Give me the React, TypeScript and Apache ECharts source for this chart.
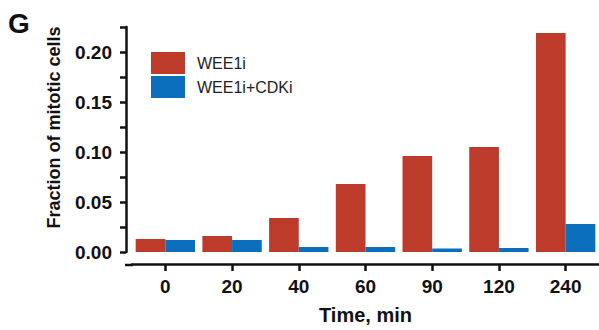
import React, { useEffect, useRef } from "react";
import * as echarts from "echarts";

const categories = ["0", "20", "40", "60", "90", "120", "240"];
const wee1i = [0.013, 0.016, 0.034, 0.068, 0.096, 0.105, 0.219];
const wee1iCdki = [0.012, 0.012, 0.005, 0.005, 0.0035, 0.004, 0.028];
const seriesNames = ["WEE1i", "WEE1i+CDKi"];
const yMax = 0.225;
const yStep = 0.025;

const FONT = "'Liberation Sans', Arial, Helvetica, sans-serif";

export default function App() {
  const ref = useRef<HTMLDivElement>(null);
  useEffect(() => {
    document.body.style.margin = "0";
    if (!ref.current) return;
    const chart = echarts.init(ref.current, null, { renderer: "svg" });
    chart.setOption({
      animation: false,
      textStyle: { fontFamily: FONT },
      grid: { left: 132, right: 0, top: 27, bottom: 77 },
      legend: {
        orient: "vertical",
        left: 151,
        top: 52,
        padding: 0,
        itemWidth: 34,
        itemHeight: 22,
        itemGap: 2,
        icon: "rect",
        data: seriesNames,
        textStyle: { fontSize: 16, color: "#222", fontFamily: FONT, padding: [0, 0, 0, 7] },
      },
      xAxis: {
        type: "category",
        data: categories,
        offset: 12,
        axisLine: { show: true, onZero: false, lineStyle: { color: "#111", width: 2.5 } },
        axisTick: { show: true, alignWithLabel: true, length: 7, lineStyle: { color: "#111", width: 2.5 } },
        axisLabel: { fontSize: 19, fontWeight: "bold", color: "#111", margin: 13, fontFamily: FONT },
        name: "Time, min",
        nameLocation: "middle",
        nameGap: 41,
        nameTextStyle: { fontSize: 20, fontWeight: "bold", color: "#111", fontFamily: FONT },
      },
      yAxis: {
        type: "value",
        min: 0,
        max: yMax,
        interval: yStep,
        offset: 6,
        splitLine: { show: false },
        axisLine: { show: true, lineStyle: { color: "#111", width: 2.5 } },
        axisTick: { show: true, length: 6, lineStyle: { color: "#111", width: 2.5 } },
        axisLabel: {
          fontSize: 19,
          fontWeight: "bold",
          color: "#111",
          margin: 14,
          fontFamily: FONT,
          formatter: (v: number) => (Math.round(v * 1000) % 50 === 0 && v < 0.21 ? v.toFixed(2) : ""),
        },
        name: "Fraction of mitotic cells",
        nameLocation: "middle",
        nameGap: 63,
        nameTextStyle: { fontSize: 18, fontWeight: "bold", color: "#111", fontFamily: FONT, padding: [0, 0, 0, 24] },
      },
      graphic: [
        {
          type: "text",
          left: 8,
          top: 9,
          style: { text: "G", font: `bold 28px ${FONT}`, fill: "#111" },
        },
        {
          type: "line",
          shape: { x1: 125, y1: 265, x2: 133, y2: 265 },
          style: { stroke: "#111", lineWidth: 2.5 },
        },
      ],
      series: [
        {
          name: seriesNames[0],
          type: "bar",
          data: wee1i,
          itemStyle: { color: "#bd3b2b" },
          barGap: "0%",
          barCategoryGap: "11%",
        },
        {
          name: seriesNames[1],
          type: "bar",
          data: wee1iCdki,
          itemStyle: { color: "#0b6fbd" },
          barGap: "0%",
          barCategoryGap: "11%",
        },
      ],
    });
    return () => chart.dispose();
  }, []);
  return <div ref={ref} style={{ width: 599, height: 330 }} />;
}
